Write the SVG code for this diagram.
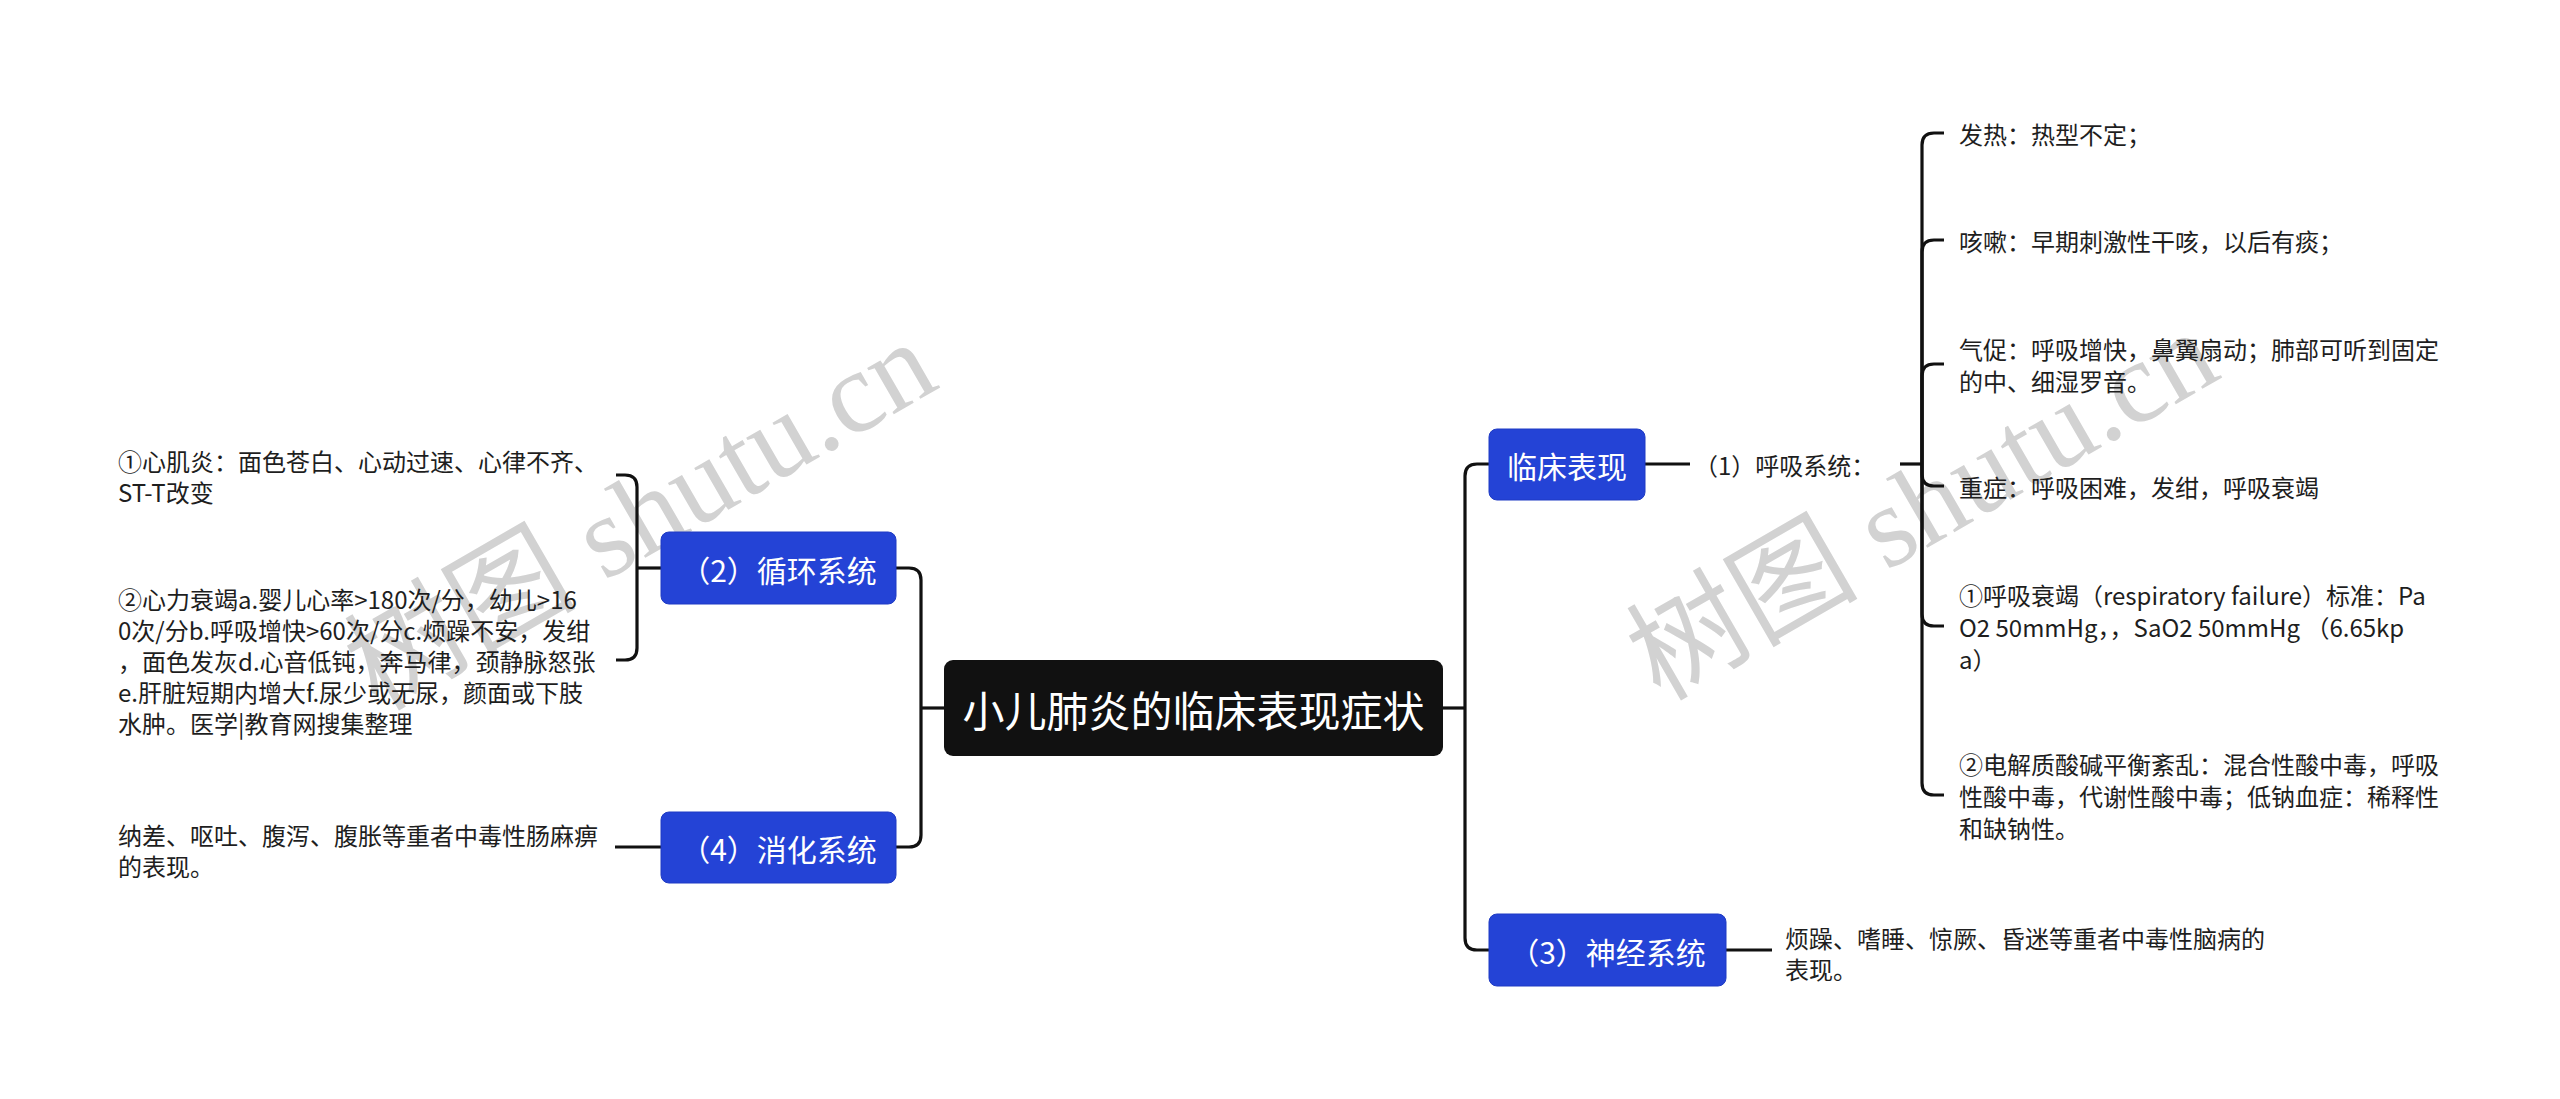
<svg xmlns="http://www.w3.org/2000/svg" width="2560" height="1099" viewBox="0 0 2560 1099">
<style>
  .bg { fill: #ffffff; }
  .wm { font-family: "Liberation Serif", "Noto Sans CJK SC", serif; font-size: 116px; fill: #d2d2d2; }
  .root { fill: #111111; }
  .topic { fill: #2443d6; stroke: #1f3bc4; stroke-width: 1; }
  .root-t { font-family: "Noto Sans CJK SC", sans-serif; font-size: 42px; fill: #ffffff; text-anchor: middle; dominant-baseline: central; }
  .topic-t { font-family: "Noto Sans CJK SC", sans-serif; font-size: 30px; fill: #ffffff; text-anchor: middle; dominant-baseline: central; }
  .leaf { font-family: "Noto Sans CJK SC", sans-serif; font-size: 24px; fill: #1e1e1e; dominant-baseline: central; }
  .edge { fill: none; stroke: #111111; stroke-width: 3.2; stroke-linecap: butt; }
</style>
<rect class="bg" x="0" y="0" width="2560" height="1099"/>

<g id="watermarks">
  <text class="wm" x="378" y="712" transform="rotate(-30 378 712)">树图 shutu.cn</text>
  <text class="wm" x="1660" y="702" transform="rotate(-30 1660 702)">树图 shutu.cn</text>
</g>

<g id="connectors">
  <path class="edge" d="M1443,708 H1465"/>
  <path class="edge" d="M1465,708 V476 Q1465,464 1477,464 H1489"/>
  <path class="edge" d="M1465,708 V938 Q1465,950 1477,950 H1489"/>
  <path class="edge" d="M944,708 H921"/>
  <path class="edge" d="M921,708 V580 Q921,568 909,568 H896"/>
  <path class="edge" d="M921,708 V835 Q921,847 909,847 H896"/>
  <path class="edge" d="M1645,464 H1690"/>
  <path class="edge" d="M1900,464 H1922"/>
  <path class="edge" d="M1922,464 V145 Q1922,133 1934,133 H1944"/>
  <path class="edge" d="M1922,464 V252 Q1922,240 1934,240 H1944"/>
  <path class="edge" d="M1922,464 V376 Q1922,364 1934,364 H1944"/>
  <path class="edge" d="M1922,464 V474 Q1922,486 1934,486 H1944"/>
  <path class="edge" d="M1922,464 V614 Q1922,626 1934,626 H1944"/>
  <path class="edge" d="M1922,464 V783 Q1922,795 1934,795 H1944"/>
  <path class="edge" d="M1726,950 H1772"/>
  <path class="edge" d="M661,568 H637"/>
  <path class="edge" d="M637,568 V487 Q637,475 625,475 H616"/>
  <path class="edge" d="M637,568 V648 Q637,660 625,660 H616"/>
  <path class="edge" d="M661,847 H615"/>
</g>

<g id="root">
  <rect class="root" x="944" y="660" width="499" height="96" rx="9"/>
  <text class="root-t" x="1193.5" y="708">小儿肺炎的临床表现症状</text>
</g>

<g id="node-linchuang">
  <rect class="topic" x="1489" y="429" width="156" height="71" rx="8"/>
  <text class="topic-t" x="1567" y="464.5">临床表现</text>
</g>

<g id="node-huxi">
  <text class="leaf" x="1694" y="464">（1）呼吸系统：</text>
</g>

<g id="node-fare">
  <text class="leaf" x="1959" y="133">发热：热型不定；</text>
</g>
<g id="node-kesou">
  <text class="leaf" x="1959" y="240">咳嗽：早期刺激性干咳，以后有痰；</text>
</g>
<g id="node-qicu">
  <text class="leaf" x="1959" y="348">气促：呼吸增快，鼻翼扇动；肺部可听到固定</text>
  <text class="leaf" x="1959" y="380">的中、细湿罗音。</text>
</g>
<g id="node-zhongzheng">
  <text class="leaf" x="1959" y="486">重症：呼吸困难，发绀，呼吸衰竭</text>
</g>
<g id="node-huxishuaijie">
  <text class="leaf" x="1959" y="594">①呼吸衰竭（respiratory failure）标准：Pa</text>
  <text class="leaf" x="1959" y="626">O2 50mmHg，，SaO2 50mmHg （6.65kp</text>
  <text class="leaf" x="1959" y="658">a）</text>
</g>
<g id="node-dianjiezhi">
  <text class="leaf" x="1959" y="763">②电解质酸碱平衡紊乱：混合性酸中毒，呼吸</text>
  <text class="leaf" x="1959" y="795">性酸中毒，代谢性酸中毒；低钠血症：稀释性</text>
  <text class="leaf" x="1959" y="827">和缺钠性。</text>
</g>

<g id="node-shenjing">
  <rect class="topic" x="1489" y="914" width="237" height="72" rx="8"/>
  <text class="topic-t" x="1607.5" y="950.5">（3）神经系统</text>
</g>
<g id="node-shenjing-detail">
  <text class="leaf" x="1785" y="937">烦躁、嗜睡、惊厥、昏迷等重者中毒性脑病的</text>
  <text class="leaf" x="1785" y="968">表现。</text>
</g>

<g id="node-xunhuan">
  <rect class="topic" x="661" y="532" width="235" height="72" rx="8"/>
  <text class="topic-t" x="778.5" y="568.5">（2）循环系统</text>
</g>
<g id="node-xinjiyan">
  <text class="leaf" x="118" y="460">①心肌炎：面色苍白、心动过速、心律不齐、</text>
  <text class="leaf" x="118" y="491">ST-T改变</text>
</g>
<g id="node-xinlishuaijie">
  <text class="leaf" x="118" y="598">②心力衰竭a.婴儿心率&gt;180次/分，幼儿&gt;16</text>
  <text class="leaf" x="118" y="629">0次/分b.呼吸增快&gt;60次/分c.烦躁不安，发绀</text>
  <text class="leaf" x="118" y="660">，面色发灰d.心音低钝，奔马律，颈静脉怒张</text>
  <text class="leaf" x="118" y="691">e.肝脏短期内增大f.尿少或无尿，颜面或下肢</text>
  <text class="leaf" x="118" y="722">水肿。医学|教育网搜集整理</text>
</g>

<g id="node-xiaohua">
  <rect class="topic" x="661" y="812" width="235" height="71" rx="8"/>
  <text class="topic-t" x="778.5" y="847.5">（4）消化系统</text>
</g>
<g id="node-xiaohua-detail">
  <text class="leaf" x="118" y="834">纳差、呕吐、腹泻、腹胀等重者中毒性肠麻痹</text>
  <text class="leaf" x="118" y="865">的表现。</text>
</g>
</svg>
